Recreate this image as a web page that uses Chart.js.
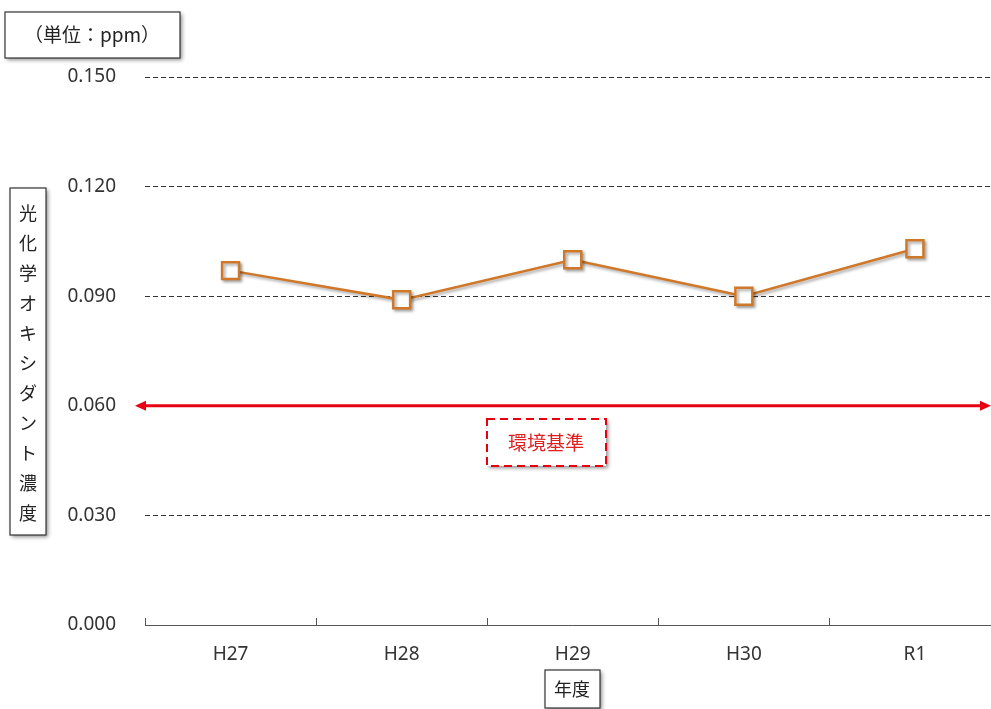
<!DOCTYPE html>
<html lang="ja">
<head>
    <meta charset="UTF-8">
    <title>光化学オキシダント濃度</title>
    <script src="https://cdn.jsdelivr.net/npm/chart.js"></script>
    <style>
        html, body { margin: 0; padding: 0; overflow: hidden; background: #fff; }
        #wrap { width: 1015px; height: 709px; }
    </style>
</head>
<body>
    <div id="wrap"><canvas id="myChart" width="1015" height="709"></canvas></div>

    <script>
        // データ
        const years = ['H27', 'H28', 'H29', 'H30', 'R1'];
        const ox = [0.097, 0.089, 0.100, 0.090, 0.103];
        const yTicks = [0.000, 0.030, 0.060, 0.090, 0.120, 0.150];
        const standard = 0.060;

        const FONT = '"Noto Sans", "Noto Sans CJK JP", sans-serif';
        const JP = '"Noto Sans CJK JP", sans-serif';

        function box(ctx, x, y, w, h, dashed, color) {
            ctx.save();
            ctx.shadowColor = 'rgba(0,0,0,0.45)';
            ctx.shadowBlur = 4;
            ctx.shadowOffsetX = 2;
            ctx.shadowOffsetY = 2;
            ctx.fillStyle = '#fff';
            ctx.fillRect(x, y, w, h);
            ctx.restore();
            ctx.save();
            ctx.strokeStyle = color;
            ctx.lineWidth = dashed ? 2 : 1.2;
            if (dashed) ctx.setLineDash([8, 5]);
            ctx.strokeRect(x, y, w, h);
            ctx.restore();
        }

        const deco = {
            id: 'deco',
            beforeDatasetsDraw(chart) {
                const ctx = chart.ctx;
                const x = chart.scales.x, y = chart.scales.y;
                const area = chart.chartArea;
                // x軸の目盛（上向き）
                ctx.save();
                ctx.strokeStyle = '#555';
                ctx.lineWidth = 1;
                ctx.beginPath();
                ctx.moveTo(area.left, y.getPixelForValue(0) + 0.5);
                ctx.lineTo(area.right, y.getPixelForValue(0) + 0.5);
                const step = (area.right - area.left) / years.length;
                for (let i = 0; i <= years.length; i++) {
                    const px = Math.round(x.getPixelForValue(i) - step / 2) + 0.5;
                    ctx.moveTo(px, y.getPixelForValue(0));
                    ctx.lineTo(px, y.getPixelForValue(0) - 7);
                }
                ctx.stroke();
                ctx.restore();

                // 環境基準の矢印
                const yy = y.getPixelForValue(standard);
                const x1 = area.left - 10, x2 = 991;
                ctx.save();
                ctx.strokeStyle = '#e60012';
                ctx.fillStyle = '#e60012';
                ctx.lineWidth = 3;
                ctx.beginPath();
                ctx.moveTo(x1 + 8, yy);
                ctx.lineTo(x2 - 8, yy);
                ctx.stroke();
                ctx.beginPath();
                ctx.moveTo(x1, yy);
                ctx.lineTo(x1 + 11, yy - 5);
                ctx.lineTo(x1 + 11, yy + 5);
                ctx.closePath();
                ctx.fill();
                ctx.beginPath();
                ctx.moveTo(x2, yy);
                ctx.lineTo(x2 - 11, yy - 5);
                ctx.lineTo(x2 - 11, yy + 5);
                ctx.closePath();
                ctx.fill();
                ctx.restore();

                // 環境基準ラベル
                box(ctx, 487, 419, 119, 47, true, '#e60012');
                ctx.save();
                ctx.fillStyle = '#e02020';
                ctx.font = '19px ' + JP;
                ctx.textAlign = 'center';
                ctx.textBaseline = 'middle';
                ctx.fillText('環境基準', 546, 443);
                ctx.restore();
            },
            beforeDatasetDraw(chart) {
                const ctx = chart.ctx;
                ctx.save();
                ctx.shadowColor = 'rgba(0,0,0,0.35)';
                ctx.shadowBlur = 3;
                ctx.shadowOffsetX = 2;
                ctx.shadowOffsetY = 2;
            },
            afterDatasetDraw(chart) {
                chart.ctx.restore();
            },
            afterDraw(chart) {
                const ctx = chart.ctx;
                // 単位
                box(ctx, 5, 12, 175, 46, false, '#333');
                ctx.save();
                ctx.fillStyle = '#222';
                ctx.font = '19px ' + JP;
                ctx.textAlign = 'center';
                ctx.textBaseline = 'middle';
                ctx.fillText('（単位：ppm）', 92, 35);
                // 縦軸タイトル
                box(ctx, 10, 188, 36, 347, false, '#333');
                const title = '光化学オキシダント濃度';
                ctx.font = '18px ' + JP;
                for (let i = 0; i < title.length; i++) {
                    ctx.fillText(title[i], 28, 213 + i * 30);
                }
                // 横軸タイトル
                box(ctx, 545, 670, 55, 38, false, '#333');
                ctx.fillText('年度', 572, 689);
                ctx.restore();
            }
        };

        const ctx = document.getElementById('myChart').getContext('2d');
        const myChart = new Chart(ctx, {
            type: 'line',
            data: {
                labels: years,
                datasets: [{
                    label: '光化学オキシダント濃度',
                    data: ox,
                    borderColor: '#d0782a',
                    borderWidth: 2.5,
                    backgroundColor: '#ffffff',
                    pointStyle: 'rect',
                    pointRadius: 12,
                    pointBorderWidth: 2.5,
                    pointBorderColor: '#d0782a',
                    pointBackgroundColor: '#ffffff',
                    tension: 0
                }]
            },
            options: {
                responsive: false,
                animation: false,
                layout: { padding: { top: 77, left: 0, right: 0, bottom: 0 } },
                plugins: {
                    legend: { display: false },
                    tooltip: { enabled: false }
                },
                scales: {
                    x: {
                        offset: true,
                        grid: { display: false, drawTicks: false },
                        border: { display: false },
                        ticks: {
                            padding: 18,
                            color: '#333',
                            font: { family: FONT, size: 19 }
                        },
                        afterFit(scale) { scale.height = 84; }
                    },
                    y: {
                        min: 0,
                        max: 0.15,
                        afterBuildTicks(scale) {
                            scale.ticks = yTicks.map(v => ({ value: v }));
                        },
                        grid: {
                            drawTicks: false,
                            color: ctx => (ctx.tick && (ctx.tick.value === 0 || ctx.tick.value === standard)) ? 'rgba(0,0,0,0)' : '#333',
                            lineWidth: 1
                        },
                        border: { display: false, dash: [5, 3] },
                        ticks: {
                            padding: 29,
                            color: '#333',
                            font: { family: FONT, size: 19 },
                            callback: v => v.toFixed(3)
                        },
                        afterFit(scale) { scale.width = 145; }
                    }
                }
            },
            plugins: [deco]
        });
    </script>
</body>
</html>
